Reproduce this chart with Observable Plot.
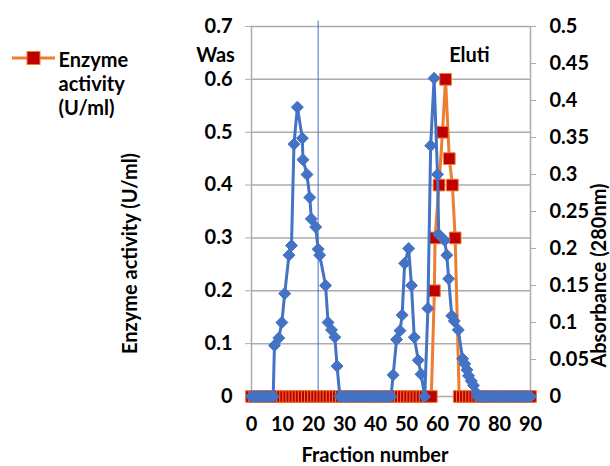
<!DOCTYPE html>
<html>
<head>
<meta charset="utf-8">
<script src="https://cdn.jsdelivr.net/npm/d3@7"></script>
<script src="https://cdn.jsdelivr.net/npm/@observablehq/plot@0.6"></script>
<style>
  html, body { margin: 0; padding: 0; background: #fff; }
  #chart svg { display: block; }
</style>
</head>
<body>
<div id="chart"></div>
<script>
// ---- Data ----
// Absorbance (280nm), right axis (blue diamonds)
const absFraction = [0,1,2,3,4,5,6,7,7.4,8.8,9.8,10.7,12.1,12.9,13.7,14.8,16.4,16.6,17.9,18.8,19.3,20.7,21.5,22.0,23.9,24.7,25.8,26.9,27.6,28.5,
  29,30,31,32,33,34,35,36,37,38,39,40,41,42,43,44,45,
  45.7,46.8,47.9,48.6,49.4,50.7,51.6,52.5,53.8,54.7,55.9,
  56.9,57.8,58.9,60.0,60.4,62.3,63.0,63.6,64.6,65.4,66.7,68.1,68.8,69.5,70.0,70.9,71.6,72.7,
  73,74,75,76,77,78,79,80,81,82,83,84,85,86,87,88,89,90];
const absValue = [0,0,0,0,0,0,0,0,0.069,0.079,0.100,0.139,0.191,0.204,0.341,0.391,0.349,0.320,0.300,0.269,0.240,0.229,0.199,0.191,0.150,0.100,0.090,0.080,0.041,0,
  0,0,0,0,0,0,0,0,0,0,0,0,0,0,0,0,0,
  0.029,0.077,0.089,0.110,0.180,0.200,0.150,0.080,0.049,0.030,0,
  0.119,0.339,0.430,0.300,0.219,0.211,0.191,0.159,0.109,0.102,0.090,0.051,0.044,0.036,0.028,0.021,0.015,0.004,
  0,0,0,0,0,0,0,0,0,0,0,0,0,0,0,0,0,0];

// Enzyme activity (U/ml), left axis (red squares)
const enzFraction = [0,1,2,3,4,5,6,7,8,9,10,11,12,13,14,15,16,17,18,19,20,21,22,23,24,25,26,27,28,29,
  30,31,32,33,34,35,36,37,38,39,40,41,42,43,44,45,46,47,48,49,50,51,52,53,54,55,56,57,58,
  59.0,59.2,60.5,61.6,62.6,63.8,64.8,65.7,
  67,68,69,70,71,72,73,74,75,76,77,78,79,80,81,82,83,84,85,86,87,88,89,90];
const enzValue = [0,0,0,0,0,0,0,0,0,0,0,0,0,0,0,0,0,0,0,0,0,0,0,0,0,0,0,0,0,0,
  0,0,0,0,0,0,0,0,0,0,0,0,0,0,0,0,0,0,0,0,0,0,0,0,0,0,0,0,0,
  0.2,0.3,0.4,0.5,0.6,0.45,0.4,0.3,
  0,0,0,0,0,0,0,0,0,0,0,0,0,0,0,0,0,0,0,0,0,0,0,0];

// Axes
const leftTicks = [0,0.1,0.2,0.3,0.4,0.5,0.6,0.7];
const leftTickLabels = ["0","0.1","0.2","0.3","0.4","0.5","0.6","0.7"];
const rightTicks = [0,0.05,0.1,0.15,0.2,0.25,0.3,0.35,0.4,0.45,0.5];
const rightTickLabels = ["0","0.05","0.1","0.15","0.2","0.25","0.3","0.35","0.4","0.45","0.5"];
const xTicks = [0,10,20,30,40,50,60,70,80,90];
const xTickLabels = ["0","10","20","30","40","50","60","70","80","90"];
const leftMax = 0.7, rightMax = 0.5;

// Annotations
const divider = [21.5];
const noteText = ["Was","Eluti"];
const noteX = [-11.6, 70.3];
const noteY = [0.645, 0.645];

const xTitle = "Fraction number";
const yLeftTitle = "Enzyme activity (U/ml)";
const yRightTitle = "Absorbance (280nm)";
const legendLabel = "Enzyme\nactivity\n(U/ml)";

// ---- Build ----
const ratio = leftMax / rightMax;
const absData = absFraction.map((x, i) => ({x, v: absValue[i] * ratio}));
const enzData = enzFraction.map((x, i) => ({x, v: enzValue[i]}));
const rightTicksScaled = rightTicks.map(t => t * ratio);
const notes = noteText.map((t, i) => ({t, x: noteX[i], y: noteY[i]}));

const blue = "#4472C4", orange = "#ED7D31", red = "#C00000", gray = "#ACACAC";
const font = "Lato, 'Open Sans', sans-serif";

function legendSwatch() {
  return (index, scales, values, dims) => {
    const g = d3.create("svg:g");
    g.append("line").attr("x1", 12).attr("x2", 55).attr("y1", 58).attr("y2", 58)
      .attr("stroke", orange).attr("stroke-width", 3);
    g.append("rect").attr("x", 27).attr("y", 51.5).attr("width", 13).attr("height", 13)
      .attr("fill", red).attr("stroke", orange).attr("stroke-width", 1);
    return g.node();
  };
}

const chart = Plot.plot({
  width: 610,
  height: 466,
  marginLeft: 251,
  marginRight: 80,
  marginTop: 26,
  marginBottom: 70,
  style: {fontFamily: font, fontWeight: "bold", fontSize: "20px", color: "#000", background: "#fff"},
  x: {domain: [0, 90]},
  y: {domain: [0, leftMax]},
  marks: [
    Plot.gridY(leftTicks, {stroke: gray, strokeOpacity: 1, strokeWidth: 1.5}),
    Plot.ruleX([0, 90], {y1: 0, y2: leftMax, stroke: gray, strokeWidth: 1.5}),
    Plot.axisY({ticks: leftTicks, tickFormat: d => leftTickLabels[leftTicks.indexOf(d)], tickSize: 6, tickPadding: 13, stroke: gray, label: null}),
    Plot.axisY({anchor: "right", ticks: rightTicksScaled, tickFormat: d => rightTickLabels[rightTicksScaled.indexOf(d)], tickSize: 5, tickPadding: 14, stroke: gray, label: null}),
    Plot.axisX({ticks: xTicks, tickFormat: d => xTickLabels[xTicks.indexOf(d)], tickSize: 0, tickPadding: 20, label: null}),
    Plot.ruleX(divider, {y1: 0, y2: 0.71, stroke: blue, strokeWidth: 1}),
    Plot.line(enzData, {x: "x", y: "v", stroke: orange, strokeWidth: 3}),
    Plot.dot(enzData, {x: "x", y: "v", symbol: "square", r: 6.6, fill: red, stroke: orange, strokeWidth: 1}),
    Plot.line(absData, {x: "x", y: "v", stroke: blue, strokeWidth: 3}),
    Plot.dot(absData, {x: "x", y: "v", symbol: "diamond2", r: 5.4, fill: blue, stroke: blue, strokeWidth: 1}),
    Plot.text(notes, {x: "x", y: "y", text: "t", fontSize: 20, fontWeight: "bold", fill: "#000"}),
    Plot.text([xTitle], {frameAnchor: "bottom", textAnchor: "middle", lineAnchor: "middle", dx: -16, dy: 59, fontSize: 20, fontWeight: "bold", fill: "#000"}),
    Plot.text([yLeftTitle], {frameAnchor: "left", textAnchor: "middle", lineAnchor: "middle", rotate: -90, dx: -121, dy: 42, fontSize: 20, fontWeight: "bold", fill: "#000"}),
    Plot.text([yRightTitle], {frameAnchor: "right", textAnchor: "middle", lineAnchor: "middle", rotate: -90, dx: 69, dy: 64, fontSize: 20, fontWeight: "bold", fill: "#000"}),
    legendSwatch(),
    Plot.text([legendLabel], {frameAnchor: "top-left", textAnchor: "start", lineAnchor: "middle", dx: -193, dy: 56.5, lineHeight: 1.2, fontSize: 20, fontWeight: "bold", fill: "#000"})
  ]
});
document.getElementById("chart").appendChild(chart);
</script>
</body>
</html>
